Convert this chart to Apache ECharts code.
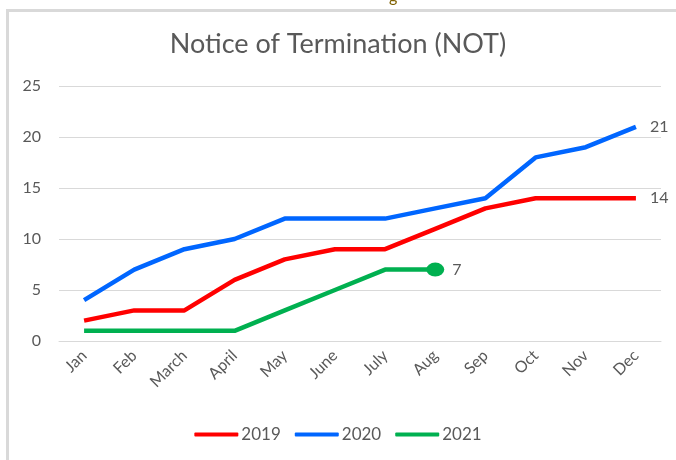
<!DOCTYPE html>
<html>
<head>
<meta charset="utf-8">
<title>Notice of Termination (NOT)</title>
<style>
body{margin:0;padding:0;background:#fff;}
#main{width:676px;height:460px;}
</style>
</head>
<body>
<div id="main"></div>
<script src="https://cdn.jsdelivr.net/npm/echarts@6/dist/echarts.min.js"></script>
<script>
var months=['Jan','Feb','March','April','May','June','July','Aug','Sep','Oct','Nov','Dec'];
var y2019=[2,3,3,6,8,9,9,11,13,14,14,14];
var y2020=[4,7,9,10,12,12,12,13,14,18,19,21];
var y2021=[1,1,1,1,3,5,7,7];
var colors=['#ff0000','#0066ff','#00b050'];
var txt='#595959';
var font='Lato, "Open Sans", sans-serif';

var endLbl={show:true,formatter:'{c}',distance:14,color:txt,fontSize:16,fontFamily:font};

var myChart=echarts.init(document.getElementById('main'));
var option={
  animation:false,
  textStyle:{fontFamily:font},
  title:{
    text:'Notice of Termination (NOT)',
    left:'center',
    top:26,
    textStyle:{color:txt,fontSize:27,fontWeight:'normal',fontFamily:font}
  },
  graphic:[
    {type:'rect',shape:{x:6,y:9,width:670,height:3},style:{fill:'#d9d9d9'}},
    {type:'rect',shape:{x:6,y:9,width:3,height:451},style:{fill:'#d9d9d9'}},
    {type:'text',left:389,top:-11,style:{text:'g',fill:'#7f6000',fontSize:16,fontFamily:font}}
  ],
  legend:{
    bottom:12,
    left:'center',
    itemWidth:44,
    itemHeight:4,
    itemGap:14,
    icon:'roundRect',
    textStyle:{color:txt,fontSize:17,fontFamily:font,padding:[0,0,0,-2]},
    data:['2019','2020','2021']
  },
  grid:{left:59,right:15,top:86,bottom:119},
  xAxis:{
    type:'category',
    data:months,
    boundaryGap:true,
    axisLine:{lineStyle:{color:'#d9d9d9'}},
    axisTick:{show:false},
    axisLabel:{rotate:45,color:txt,fontSize:16,fontFamily:font,margin:12,interval:0}
  },
  yAxis:{
    type:'value',
    min:0,max:25,interval:5,
    axisLine:{show:false},
    axisTick:{show:false},
    splitLine:{lineStyle:{color:'#d9d9d9',width:1}},
    axisLabel:{color:txt,fontSize:16,fontFamily:font,margin:18}
  },
  series:[
    {name:'2019',type:'line',data:y2019,showSymbol:false,symbol:'none',
     lineStyle:{color:colors[0],width:4.5},itemStyle:{color:colors[0]},endLabel:endLbl},
    {name:'2020',type:'line',data:y2020,showSymbol:false,symbol:'none',
     lineStyle:{color:colors[1],width:4.5},itemStyle:{color:colors[1]},endLabel:endLbl},
    {name:'2021',type:'line',
     data:y2021.map(function(v,i){
       if(i==y2021.length-1){
         return {value:v,symbol:'circle',symbolSize:[18,14],
           label:{show:true,position:'right',distance:8,color:txt,fontSize:16,fontFamily:font}};
       }
       return {value:v,symbol:'none'};
     }),
     lineStyle:{color:colors[2],width:4.5},itemStyle:{color:colors[2]}}
  ]
};
myChart.setOption(option);
</script>
</body>
</html>
